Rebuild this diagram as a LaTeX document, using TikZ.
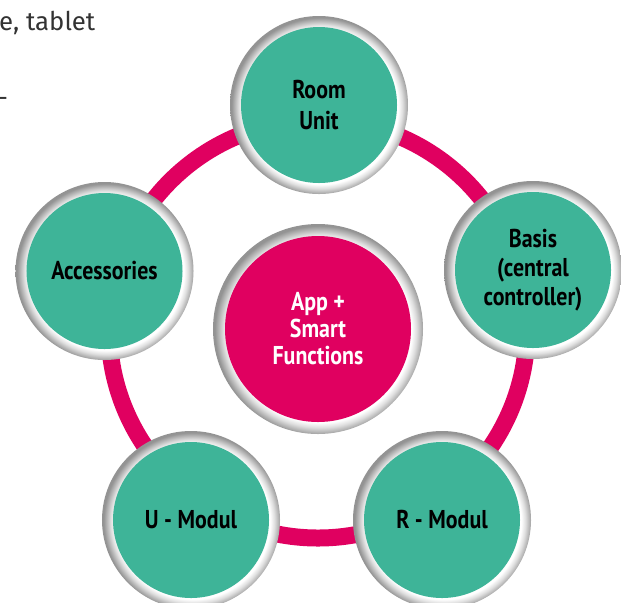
\documentclass[tikz,border=0pt]{standalone}
\usepackage{fontspec}
\setmainfont{PT Sans}
\newfontfamily\unitfont{PT Sans}[FakeStretch=0.85]
\newfontfamily\notefont{Fira Sans}
\usetikzlibrary{calc}

\definecolor{unitgreen}{RGB}{62,180,152}
\definecolor{ringpink}{RGB}{224,0,96}
\definecolor{notegray}{RGB}{51,51,51}
\pgfdeclareradialshading{ringshade}{\pgfpoint{0.8bp}{-0.8bp}}{color(0bp)=(white); color(21.8bp)=(white); color(23bp)=(gray!25); color(25bp)=(gray!85); color(50bp)=(gray!85)}

\begin{document}
\begin{tikzpicture}[x=0.03cm, y=-0.03cm,
    unit/.style={circle, minimum size=5.34cm, inner sep=0pt, shade, shading=ringshade,
      path picture={\fill[unitgreen] (path picture bounding box.center) circle (2.34cm);},
      align=center, font=\unitfont\bfseries\fontsize{22}{27}\selectfont},
    hubnode/.style={circle, minimum size=6.3cm, inner sep=0pt, shade, shading=ringshade,
      path picture={\fill[ringpink] (path picture bounding box.center) circle (2.79cm);},
      align=center, text=white, font=\unitfont\bfseries\fontsize{22}{23}\selectfont},
    note/.style={inner sep=0pt, text=notegray, font=\notefont\fontsize{22}{26}\selectfont}]
  \useasboundingbox (0,0) rectangle (621,602);

  % ring behind the units
  \coordinate (hub) at (318,329);
  \draw[ringpink, line width=0.51cm] (hub) circle (6.27cm);

  \node[hubnode] (app) at (hub) {App +\\Smart\\Functions};
  \node[unit] (room) at (319,105) {Room\\Unit};
  \node[unit, font=\unitfont\bfseries\fontsize{22}{25}\selectfont] (basis) at (533,270) {Basis\\(central\\controller)};
  \node[unit] (rmod) at (442,520) {R - Modul};
  \node[unit] (umod) at (191,520) {U - Modul};
  \node[unit] (acc) at (104.5,271) {Accessories};

  % cut-off text on the left
  \node[note, anchor=base west] (tablet) at (-1,30) {e, tablet};
  \node[note, anchor=base east] (dash) at (7.5,106) {–};
\end{tikzpicture}
\end{document}
